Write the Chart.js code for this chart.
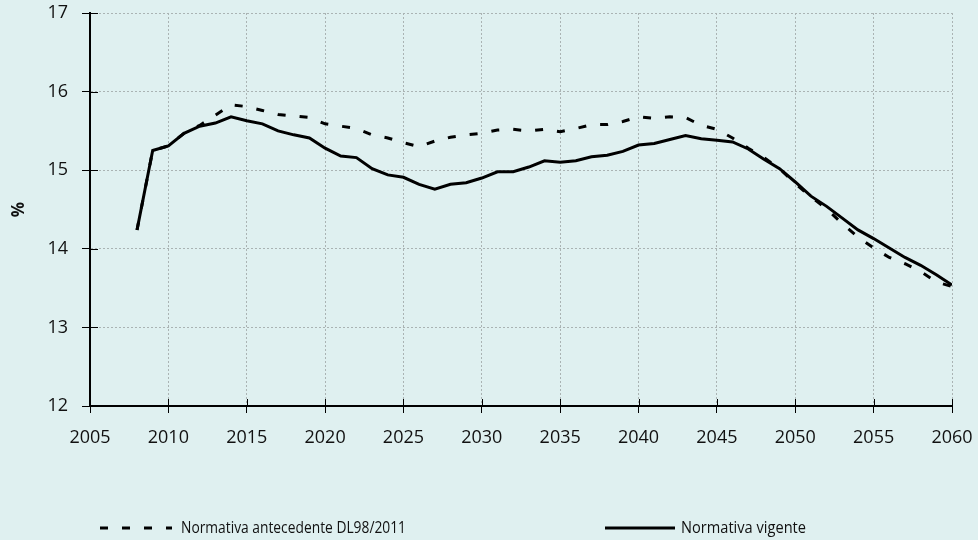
<!DOCTYPE html>
<html>
<head>
<meta charset="utf-8">
<script src="https://cdn.jsdelivr.net/npm/chart.js@4.4.0/dist/chart.umd.min.js"></script>
<style>
  html, body { margin: 0; padding: 0; background: #dff0f0; }
  #wrap { width: 978px; height: 540px; }
</style>
</head>
<body>
<div id="wrap"><canvas id="chart" width="978" height="540"></canvas></div>
<script>
// years on the x axis
const years = [2008, 2009, 2010, 2011, 2012, 2013, 2014, 2015, 2016, 2017,
  2018, 2019, 2020, 2021, 2022, 2023, 2024, 2025, 2026, 2027,
  2028, 2029, 2030, 2031, 2032, 2033, 2034, 2035, 2036, 2037,
  2038, 2039, 2040, 2041, 2042, 2043, 2044, 2045, 2046, 2047,
  2048, 2049, 2050, 2051, 2052, 2053, 2054, 2055, 2056, 2057,
  2058, 2059, 2060];

// Normativa antecedente DL98/2011 (dashed)
const antecedente = [14.24, 15.25, 15.31, 15.47, 15.57, 15.70, 15.83, 15.81, 15.76, 15.71,
  15.69, 15.67, 15.59, 15.56, 15.53, 15.45, 15.41, 15.35, 15.30, 15.37,
  15.42, 15.45, 15.47, 15.51, 15.52, 15.50, 15.52, 15.49, 15.53, 15.58,
  15.58, 15.62, 15.68, 15.66, 15.68, 15.67, 15.57, 15.52, 15.41, 15.28,
  15.16, 15.02, 14.83, 14.66, 14.51, 14.32, 14.15, 14.01, 13.89, 13.81,
  13.71, 13.58, 13.52];

// Normativa vigente (solid)
const vigente = [14.24, 15.25, 15.31, 15.47, 15.56, 15.60, 15.68, 15.63, 15.59, 15.50,
  15.45, 15.41, 15.28, 15.18, 15.16, 15.02, 14.94, 14.91, 14.82, 14.76,
  14.82, 14.84, 14.90, 14.98, 14.98, 15.04, 15.12, 15.10, 15.12, 15.17,
  15.19, 15.24, 15.32, 15.34, 15.39, 15.44, 15.40, 15.38, 15.36, 15.27,
  15.14, 15.02, 14.85, 14.67, 14.54, 14.39, 14.24, 14.13, 14.01, 13.89,
  13.79, 13.67, 13.54];

const seriesLabels = ['Normativa antecedente DL98/2011', 'Normativa vigente'];

const FONT = '"Open Sans", "DejaVu Sans", sans-serif';
const GRID = '#aab3b3';

// inner half of the "cross" tick marks (Chart.js only draws the outer half)
const crossTicks = {
  id: 'crossTicks',
  afterDraw(chart) {
    const ctx = chart.ctx;
    const xs = chart.scales.x, ys = chart.scales.y;
    const area = chart.chartArea;
    ctx.save();
    ctx.strokeStyle = '#000';
    ctx.lineWidth = 1;
    ctx.beginPath();
    xs.ticks.forEach(t => {
      const px = Math.round(xs.getPixelForValue(t.value)) + 0.5;
      ctx.moveTo(px, area.bottom);
      ctx.lineTo(px, area.bottom - 7);
    });
    ys.ticks.forEach(t => {
      const py = Math.round(ys.getPixelForValue(t.value)) + 0.5;
      ctx.moveTo(area.left, py);
      ctx.lineTo(area.left + 8, py);
    });
    ctx.stroke();
    ctx.restore();
  }
};

// legend drawn by hand so the two items sit where the original has them
const manualLegend = {
  id: 'manualLegend',
  afterDraw(chart) {
    const ctx = chart.ctx;
    const spots = [
      { x0: 100, x1: 172, tx: 181, w: 225 },
      { x0: 605, x1: 675, tx: 681, w: 125 }
    ];
    const y = 528;
    ctx.save();
    chart.data.datasets.forEach((ds, i) => {
      const s = spots[i];
      ctx.strokeStyle = ds.borderColor;
      ctx.lineWidth = ds.borderWidth;
      ctx.setLineDash(ds.borderDash || []);
      ctx.beginPath();
      ctx.moveTo(s.x0, y);
      ctx.lineTo(s.x1, y);
      ctx.stroke();
      ctx.setLineDash([]);
      ctx.fillStyle = '#111';
      ctx.font = '17px ' + FONT;
      ctx.textBaseline = 'middle';
      ctx.fillText(ds.label, s.tx, y, s.w);
    });
    ctx.restore();
  }
};

// label overhang would push the plot area in; the page has room for it already
function noOverhang(scale) {
  scale.paddingTop = 0;
  scale.paddingBottom = 0;
  scale.paddingLeft = 0;
  scale.paddingRight = 0;
}

new Chart(document.getElementById('chart'), {
  type: 'line',
  data: {
    datasets: [
      {
        label: seriesLabels[0],
        data: years.map((yr, i) => ({ x: yr, y: antecedente[i] })),
        borderColor: '#000',
        borderWidth: 3,
        borderDash: [8, 14],
        pointRadius: 0,
        tension: 0,
        fill: false
      },
      {
        label: seriesLabels[1],
        data: years.map((yr, i) => ({ x: yr, y: vigente[i] })),
        borderColor: '#000',
        borderWidth: 3,
        pointRadius: 0,
        tension: 0,
        fill: false
      }
    ]
  },
  options: {
    responsive: false,
    animation: false,
    layout: { padding: { left: 0, right: 26, top: 13, bottom: 0 } },
    plugins: {
      legend: { display: false },
      tooltip: { enabled: false }
    },
    scales: {
      x: {
        type: 'linear',
        min: 2005,
        max: 2060,
        afterFit(scale) { scale.height = 134; noOverhang(scale); },
        ticks: {
          stepSize: 5,
          color: '#111',
          padding: 14,
          font: { family: FONT, size: 18 },
          callback: v => String(v)
        },
        grid: { color: GRID, tickColor: '#000', tickLength: 7, tickWidth: 1 },
        border: { color: '#000', width: 2, dash: [2, 2] }
      },
      y: {
        min: 12,
        max: 17,
        afterFit(scale) { scale.width = 90; noOverhang(scale); },
        ticks: {
          stepSize: 1,
          color: '#111',
          padding: 14,
          font: { family: FONT, size: 18 }
        },
        grid: { color: GRID, tickColor: '#000', tickLength: 8, tickWidth: 1 },
        border: { color: '#000', width: 2, dash: [2, 2] },
        title: {
          display: true,
          text: '%',
          color: '#111',
          font: { family: FONT, size: 17, weight: 'bold' },
          padding: { top: 9, bottom: 0 }
        }
      }
    }
  },
  plugins: [crossTicks, manualLegend]
});
</script>
</body>
</html>
